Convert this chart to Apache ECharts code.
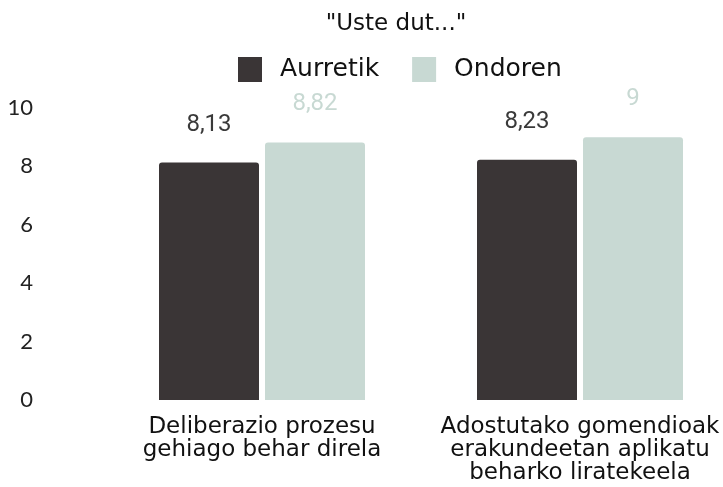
<!DOCTYPE html>
<html>
<head>
<meta charset="utf-8">
<script src="https://cdn.jsdelivr.net/npm/echarts@6/dist/echarts.min.js"></script>
<style>
  html, body { margin: 0; padding: 0; background: #fff; }
  #chart { width: 723px; height: 487px; }
</style>
</head>
<body>
<div id="chart"></div>
<script>
  const categories = ['Deliberazio prozesu\ngehiago behar direla', 'Adostutako gomendioak\nerakundeetan aplikatu\nbeharko liratekeela']
  const aurretik = [8.13, 8.23]
  const ondoren = [8.82, 9]
  const yTicks = [0, 2, 4, 6, 8, 10]

  const HAND = '"DejaVu Sans", sans-serif'
  const fmt = p => String(p.value).replace('.', ',')

  let chart = echarts.init(document.getElementById('chart'))
  chart.setOption({
    animation: false,
    title: {
      text: '"Uste dut..."',
      left: 391, top: 8,
      textAlign: 'center',
      textStyle: { fontFamily: HAND, fontWeight: 'normal', fontSize: 23, color: '#111' }
    },
    legend: {
      left: 233, top: 52,
      icon: 'rect',
      itemWidth: 24, itemHeight: 25, itemGap: 33,
      textStyle: { fontFamily: HAND, fontSize: 25, color: '#111', padding: [0, 0, 0, 13] },
      data: ['Aurretik', 'Ondoren']
    },
    grid: { left: 103, width: 636, top: 108, bottom: 87, outerBoundsMode: 'none' },
    xAxis: {
      type: 'category',
      data: categories,
      axisLine: { show: false },
      axisTick: { show: false },
      axisLabel: { fontFamily: HAND, fontSize: 23, lineHeight: 23, color: '#111', margin: 16, interval: 0 }
    },
    yAxis: {
      type: 'value',
      min: 0, max: 10, interval: 2,
      splitLine: { show: false },
      axisLabel: {
        margin: 70, fontFamily: 'Lato, sans-serif', fontSize: 22, color: '#222',
        formatter: v => yTicks.includes(v) ? String(v) : ''
      }
    },
    series: [
      {
        name: 'Aurretik', type: 'bar', data: aurretik,
        barWidth: 100, barGap: '6%',
        itemStyle: { color: '#3a3536', borderRadius: [3, 3, 0, 0] },
        label: { show: true, position: 'top', distance: 26, formatter: fmt,
          fontFamily: 'Roboto, sans-serif', fontSize: 24, color: '#3a3a3a' }
      },
      {
        name: 'Ondoren', type: 'bar', data: ondoren,
        barWidth: 100,
        itemStyle: { color: '#c8d9d3', borderRadius: [3, 3, 0, 0] },
        label: { show: true, position: 'top', distance: 26, formatter: fmt,
          fontFamily: 'Roboto, sans-serif', fontSize: 24, color: '#c8d9d3' }
      }
    ]
  })
</script>
</body>
</html>
